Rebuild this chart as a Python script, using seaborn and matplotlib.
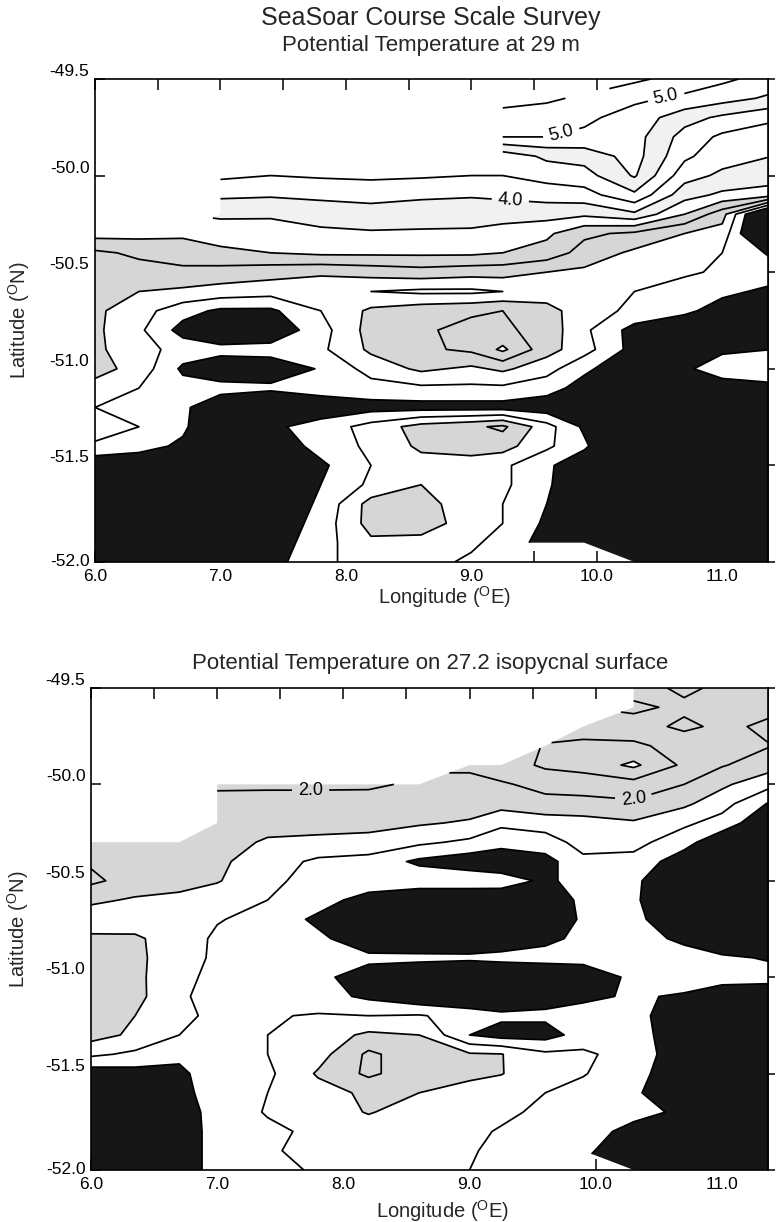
import numpy as np
import matplotlib
matplotlib.use("Agg")
import matplotlib.pyplot as plt
import seaborn as sns

nan = np.nan

# Survey grid (degrees)
lon = [6.0, 6.35, 6.7, 7.0, 7.4, 7.8, 8.2, 8.6, 9.0, 9.25, 9.6, 9.9, 10.3, 10.7, 11.0, 11.4]
lat = [-49.5, -49.6, -49.7, -49.8, -49.9, -50.0, -50.1, -50.2, -50.3, -50.4, -50.5,
       -50.6, -50.7, -50.8, -50.9, -51.0, -51.1, -51.2, -51.3, -51.4, -51.5, -51.6,
       -51.7, -51.8, -51.9, -52.0]

# Potential temperature at 29 m (deg C), rows follow `lat`, columns follow `lon`
theta_29m = [
    [nan, nan, nan, nan, nan, nan, nan, nan, nan, nan, nan, nan, 5.30, 5.15, 5.05, 4.90],
    [nan, nan, nan, nan, nan, nan, nan, nan, nan, 5.35, 5.30, 5.20, 5.05, 4.95, 4.85, 4.70],
    [nan, nan, nan, nan, nan, nan, nan, nan, nan, 5.15, 5.10, 5.05, 4.90, 4.60, 4.45, 4.30],
    [nan, nan, nan, nan, nan, nan, nan, nan, nan, 5.00, 5.00, 4.95, 4.85, 4.40, 4.20, 4.10],
    [nan, nan, nan, nan, nan, nan, nan, nan, nan, 4.35, 4.55, 4.60, 4.85, 4.30, 4.10, 4.00],
    [nan, nan, nan, 4.30, 4.25, 4.28, 4.30, 4.28, 4.25, 4.25, 4.35, 4.40, 4.78, 4.10, 3.95, 3.90],
    [nan, nan, nan, 4.05, 4.03, 4.06, 4.08, 4.05, 4.02, 4.05, 4.10, 4.15, 4.45, 3.85, 3.70, 3.60],
    [nan, nan, nan, 3.80, 3.78, 3.85, 3.90, 3.85, 3.88, 3.85, 3.85, 3.80, 3.95, 3.50, 3.10, 1.80],
    [3.60, 3.58, 3.55, 3.60, 3.65, 3.70, 3.72, 3.72, 3.70, 3.65, 3.55, 3.30, 3.20, 3.00, 2.90, 1.80],
    [3.20, 3.30, 3.35, 3.45, 3.50, 3.55, 3.55, 3.55, 3.55, 3.50, 3.40, 3.15, 2.95, 2.85, 2.75, 2.45],
    [3.05, 3.15, 3.20, 3.15, 3.10, 3.05, 3.10, 3.15, 3.10, 3.10, 3.00, 2.95, 2.85, 2.80, 2.70, 2.60],
    [3.10, 3.00, 2.95, 2.90, 2.85, 2.80, 2.75, 2.70, 2.70, 2.75, 2.85, 2.80, 2.75, 2.60, 2.55, 2.45],
    [3.05, 2.85, 2.60, 2.45, 2.45, 2.75, 3.05, 3.15, 3.20, 3.25, 3.10, 2.85, 2.70, 2.55, 2.40, 2.30],
    [3.05, 2.80, 2.40, 2.20, 2.30, 2.65, 3.10, 3.20, 3.35, 3.30, 3.15, 2.80, 2.40, 2.30, 2.30, 2.20],
    [3.05, 2.85, 2.65, 2.60, 2.60, 2.70, 3.05, 3.20, 3.30, 3.55, 3.10, 2.85, 2.40, 2.40, 2.45, 2.50],
    [3.10, 2.90, 2.45, 2.30, 2.35, 2.52, 2.85, 3.05, 2.95, 3.05, 2.85, 2.55, 2.30, 2.45, 2.65, 2.75],
    [2.90, 2.75, 2.60, 2.60, 2.55, 2.60, 2.65, 2.70, 2.70, 2.70, 2.60, 2.40, 2.20, 2.30, 2.35, 2.40],
    [2.75, 2.65, 2.55, 2.30, 2.20, 2.35, 2.40, 2.40, 2.40, 2.40, 2.35, 2.20, 2.10, 2.10, 2.10, 2.10],
    [2.90, 2.75, 2.55, 2.20, 2.45, 2.60, 2.85, 3.10, 3.20, 3.30, 2.85, 2.45, 2.00, 2.00, 2.00, 2.00],
    [2.70, 2.60, 2.45, 2.10, 2.30, 2.60, 2.80, 3.05, 3.15, 3.10, 2.80, 2.55, 2.00, 2.00, 2.00, 2.00],
    [2.30, 2.30, 2.25, 2.10, 2.15, 2.45, 2.75, 2.90, 2.85, 2.80, 2.55, 2.30, 2.00, 2.00, 2.00, 2.00],
    [2.20, 2.20, 2.20, 2.10, 2.20, 2.50, 2.80, 3.00, 2.90, 2.80, 2.55, 2.20, 2.00, 2.00, 2.00, 2.00],
    [2.20, 2.20, 2.20, 2.10, 2.25, 2.55, 3.10, 3.10, 2.85, 2.75, 2.50, 2.20, 2.00, 2.00, 2.00, 2.00],
    [2.20, 2.20, 2.20, 2.10, 2.30, 2.60, 3.10, 3.15, 2.85, 2.75, 2.45, 2.20, 2.00, 2.00, 2.00, 2.00],
    [2.20, 2.20, 2.20, 2.15, 2.35, 2.65, 2.95, 2.90, 2.80, 2.65, 2.40, 2.20, 2.00, 2.00, 2.00, 2.00],
    [2.20, 2.20, 2.20, 2.20, 2.40, 2.70, 2.85, 2.85, 2.70, nan, nan, nan, 2.00, 2.00, 2.00, 2.00],
]

# Potential temperature on the 27.2 isopycnal surface (deg C)
theta_272 = [
    [nan, nan, nan, nan, nan, nan, nan, nan, nan, nan, nan, nan, 2.10, 1.95, 2.05, 2.10],
    [nan, nan, nan, nan, nan, nan, nan, nan, nan, nan, nan, nan, 1.95, 2.05, 2.10, 2.05],
    [nan, nan, nan, nan, nan, nan, nan, nan, nan, nan, nan, 2.15, 2.10, 1.95, 2.05, 1.95],
    [nan, nan, nan, nan, nan, nan, nan, nan, nan, nan, 2.27, 2.30, 2.30, 2.15, 2.05, 2.00],
    [nan, nan, nan, nan, nan, nan, nan, nan, 2.02, 2.10, 2.30, 2.35, 2.55, 2.20, 2.02, 1.85],
    [nan, nan, nan, 2.03, 2.03, 2.03, 2.03, 1.97, 1.97, 1.98, 2.05, 2.10, 2.15, 2.00, 1.80, 1.55],
    [nan, nan, nan, 1.94, 1.93, 1.93, 1.92, 1.90, 1.88, 1.85, 1.95, 1.93, 1.96, 1.80, 1.60, 1.20],
    [nan, nan, nan, 1.85, 1.84, 1.83, 1.82, 1.78, 1.72, 1.55, 1.60, 1.65, 1.72, 1.55, 1.40, 1.00],
    [1.95, 1.95, 1.92, 1.85, 1.72, 1.70, 1.68, 1.55, 1.45, 1.35, 1.40, 1.58, 1.58, 1.35, 1.05, 0.90],
    [1.97, 1.93, 1.90, 1.80, 1.62, 1.45, 1.40, 1.20, 1.10, 1.05, 1.15, 1.45, 1.42, 1.10, 0.90, 0.90],
    [2.05, 1.90, 1.85, 1.77, 1.55, 1.42, 1.40, 1.42, 1.42, 1.38, 1.20, 1.35, 1.30, 1.00, 0.90, 0.90],
    [1.80, 1.72, 1.68, 1.60, 1.50, 1.35, 1.15, 1.00, 1.00, 1.05, 1.10, 1.30, 1.28, 1.05, 0.90, 0.90],
    [1.60, 1.65, 1.62, 1.52, 1.40, 1.20, 1.00, 0.95, 0.95, 1.00, 1.10, 1.28, 1.30, 1.10, 0.90, 0.90],
    [1.80, 1.78, 1.65, 1.45, 1.40, 1.30, 1.10, 1.00, 1.05, 1.10, 1.20, 1.30, 1.35, 1.20, 1.00, 0.95],
    [1.85, 1.80, 1.62, 1.45, 1.38, 1.35, 1.30, 1.32, 1.30, 1.32, 1.33, 1.33, 1.38, 1.35, 1.30, 1.22],
    [1.88, 1.80, 1.60, 1.40, 1.38, 1.30, 1.15, 1.00, 0.95, 1.00, 1.05, 1.10, 1.30, 1.38, 1.35, 1.35],
    [1.90, 1.82, 1.55, 1.38, 1.40, 1.35, 1.20, 1.05, 1.00, 1.05, 1.15, 1.20, 1.28, 1.22, 1.10, 1.05],
    [1.88, 1.75, 1.55, 1.45, 1.48, 1.52, 1.50, 1.52, 1.40, 1.30, 1.30, 1.35, 1.35, 1.05, 0.95, 0.95],
    [1.85, 1.70, 1.50, 1.40, 1.50, 1.62, 1.80, 1.75, 1.25, 1.15, 1.15, 1.35, 1.38, 1.05, 0.95, 0.95],
    [1.55, 1.45, 1.30, 1.35, 1.50, 1.65, 2.05, 1.85, 1.78, 1.76, 1.55, 1.55, 1.38, 1.10, 0.95, 0.95],
    [1.10, 1.15, 1.20, 1.38, 1.45, 1.78, 2.05, 1.85, 1.78, 1.76, 1.60, 1.52, 1.30, 1.15, 0.95, 0.95],
    [1.00, 1.05, 1.15, 1.40, 1.50, 1.65, 1.80, 1.75, 1.70, 1.62, 1.50, 1.40, 1.28, 1.10, 0.95, 0.95],
    [1.00, 1.00, 1.12, 1.35, 1.52, 1.60, 1.77, 1.62, 1.60, 1.55, 1.45, 1.38, 1.30, 1.22, 0.90, 0.90],
    [1.00, 1.00, 1.10, 1.35, 1.45, 1.55, 1.60, 1.58, 1.55, 1.48, 1.40, 1.32, 1.20, 1.00, 0.90, 0.90],
    [1.00, 1.00, 1.10, 1.35, 1.48, 1.55, 1.58, 1.55, 1.52, 1.45, 1.35, 1.28, 1.15, 0.95, 0.90, 0.90],
    [1.00, 1.00, 1.10, 1.35, 1.45, 1.52, 1.55, 1.55, 1.50, 1.42, 1.30, nan, 1.10, 0.95, 0.90, 0.90],
]

# Contour levels and shading bands
levels_29m = [0.0, 2.5, 2.75, 3.0, 3.25, 3.5, 3.75, 4.0, 4.25, 4.5, 4.75, 5.0, 5.25, 9.0]
levels_272 = [0.0, 1.25, 1.5, 1.75, 2.0, 2.25, 2.5, 9.0]

# Axis ticks
xticks = [6.0, 7.0, 8.0, 9.0, 10.0, 11.0]
xtick_labels = ["6.0", "7.0", "8.0", "9.0", "10.0", "11.0"]
xticks_minor = [6.5, 7.5, 8.5, 9.5, 10.5]
yticks = [-49.5, -50.0, -50.5, -51.0, -51.5, -52.0]
ytick_labels = ["-49.5", "-50.0", "-50.5", "-51.0", "-51.5", "-52.0"]

BLACK = "#161616"
GRAY = "#d6d6d6"
FAINT = "#f1f1f1"
WHITE = "#ffffff"

colors_29m = [BLACK, WHITE, WHITE, GRAY, GRAY, WHITE, FAINT, WHITE, WHITE, FAINT, WHITE, WHITE, WHITE]
colors_272 = [BLACK, WHITE, WHITE, GRAY, GRAY, GRAY, WHITE]

sns.set_theme(style="ticks")
plt.rcParams["font.family"] = ["Liberation Sans", "DejaVu Sans"]
plt.rcParams["mathtext.fontset"] = "custom"
plt.rcParams["mathtext.rm"] = "Liberation Sans"
plt.rcParams["mathtext.it"] = "Liberation Sans:italic"
plt.rcParams["axes.edgecolor"] = "black"
plt.rcParams["xtick.color"] = "black"
plt.rcParams["ytick.color"] = "black"

fig = plt.figure(figsize=(7.79, 12.22), dpi=100)
ax_top = fig.add_axes([0.1220, 0.5401, 0.8639, 0.3953])
ax_bot = fig.add_axes([0.1168, 0.0426, 0.8691, 0.3944])

LINE_KW = dict(colors="black", linewidths=1.25)


def draw_panel(ax, grid, levels, colors, labels, xlabel_y, ylabel_x):
    field = np.ma.masked_invalid(np.array(grid, dtype=float))
    ax.contourf(lon, lat, field, levels=levels, colors=colors, antialiased=True)

    labelled = [lev for lev, _ in labels]
    plain = [lev for lev in levels[1:-1] if lev not in labelled]
    ax.contour(lon, lat, field, levels=plain, **LINE_KW)
    # labelled isolines are drawn on their own so each gets inline labels
    for lev, pts in labels:
        cs = ax.contour(lon, lat, field, levels=[lev], **LINE_KW)
        ax.clabel(cs, manual=pts, fmt="%.1f", fontsize=13,
                  inline=True, inline_spacing=6)

    ax.set_xlim(6.0, 11.365)
    ax.set_ylim(-52.0, -49.5)
    ax.set_xticks(xticks)
    ax.set_xticklabels(xtick_labels)
    ax.set_xticks(xticks_minor, minor=True)
    ax.set_yticks(yticks)
    ax.set_yticklabels(ytick_labels)
    ax.tick_params(axis="x", which="both", direction="in", top=True, bottom=True,
                   length=8, width=1.1, labelsize=12.5, pad=5)
    ax.tick_params(axis="y", which="both", direction="in", left=True, right=False,
                   length=7, width=1.1, labelsize=12.5, pad=4)
    for lab in ax.get_yticklabels():
        lab.set_verticalalignment("bottom")
    ax.get_yticklabels()[-1].set_verticalalignment("center")

    sec = ax.secondary_yaxis("right")
    sec.set_yticks(yticks)
    sec.tick_params(direction="out", length=5, width=1.1, labelright=False)
    sec.spines["right"].set_linewidth(1.2)

    for sp in ax.spines.values():
        sp.set_linewidth(1.2)
        sp.set_color("black")

    ax.set_xlabel(r"Longitude ($^{\mathrm{O}}$E)", fontsize=14.5)
    ax.set_ylabel(r"Latitude ($^{\mathrm{O}}$N)", fontsize=14.5)
    ax.xaxis.set_label_coords(0.52, xlabel_y)
    ax.yaxis.set_label_coords(ylabel_x, 0.5)


draw_panel(ax_top, theta_29m, levels_29m, colors_29m,
           [(5.0, [(9.72, -49.79), (10.56, -49.62)]), (4.0, [(9.31, -50.13)])],
           -0.046, -0.094)
draw_panel(ax_bot, theta_272, levels_272, colors_272,
           [(2.0, [(7.74, -50.03), (10.3, -50.08)])],
           -0.058, -0.088)

fig.text(431 / 779, 1 - 18 / 1222, "SeaSoar Course Scale Survey",
         ha="center", va="center", fontsize=18)
fig.text(431 / 779, 1 - 46 / 1222, "Potential Temperature at 29 m",
         ha="center", va="center", fontsize=16)
fig.text(430 / 779, 1 - 664 / 1222, "Potential Temperature on 27.2 isopycnal surface",
         ha="center", va="center", fontsize=16)

fig.savefig("out.png", dpi=100)
